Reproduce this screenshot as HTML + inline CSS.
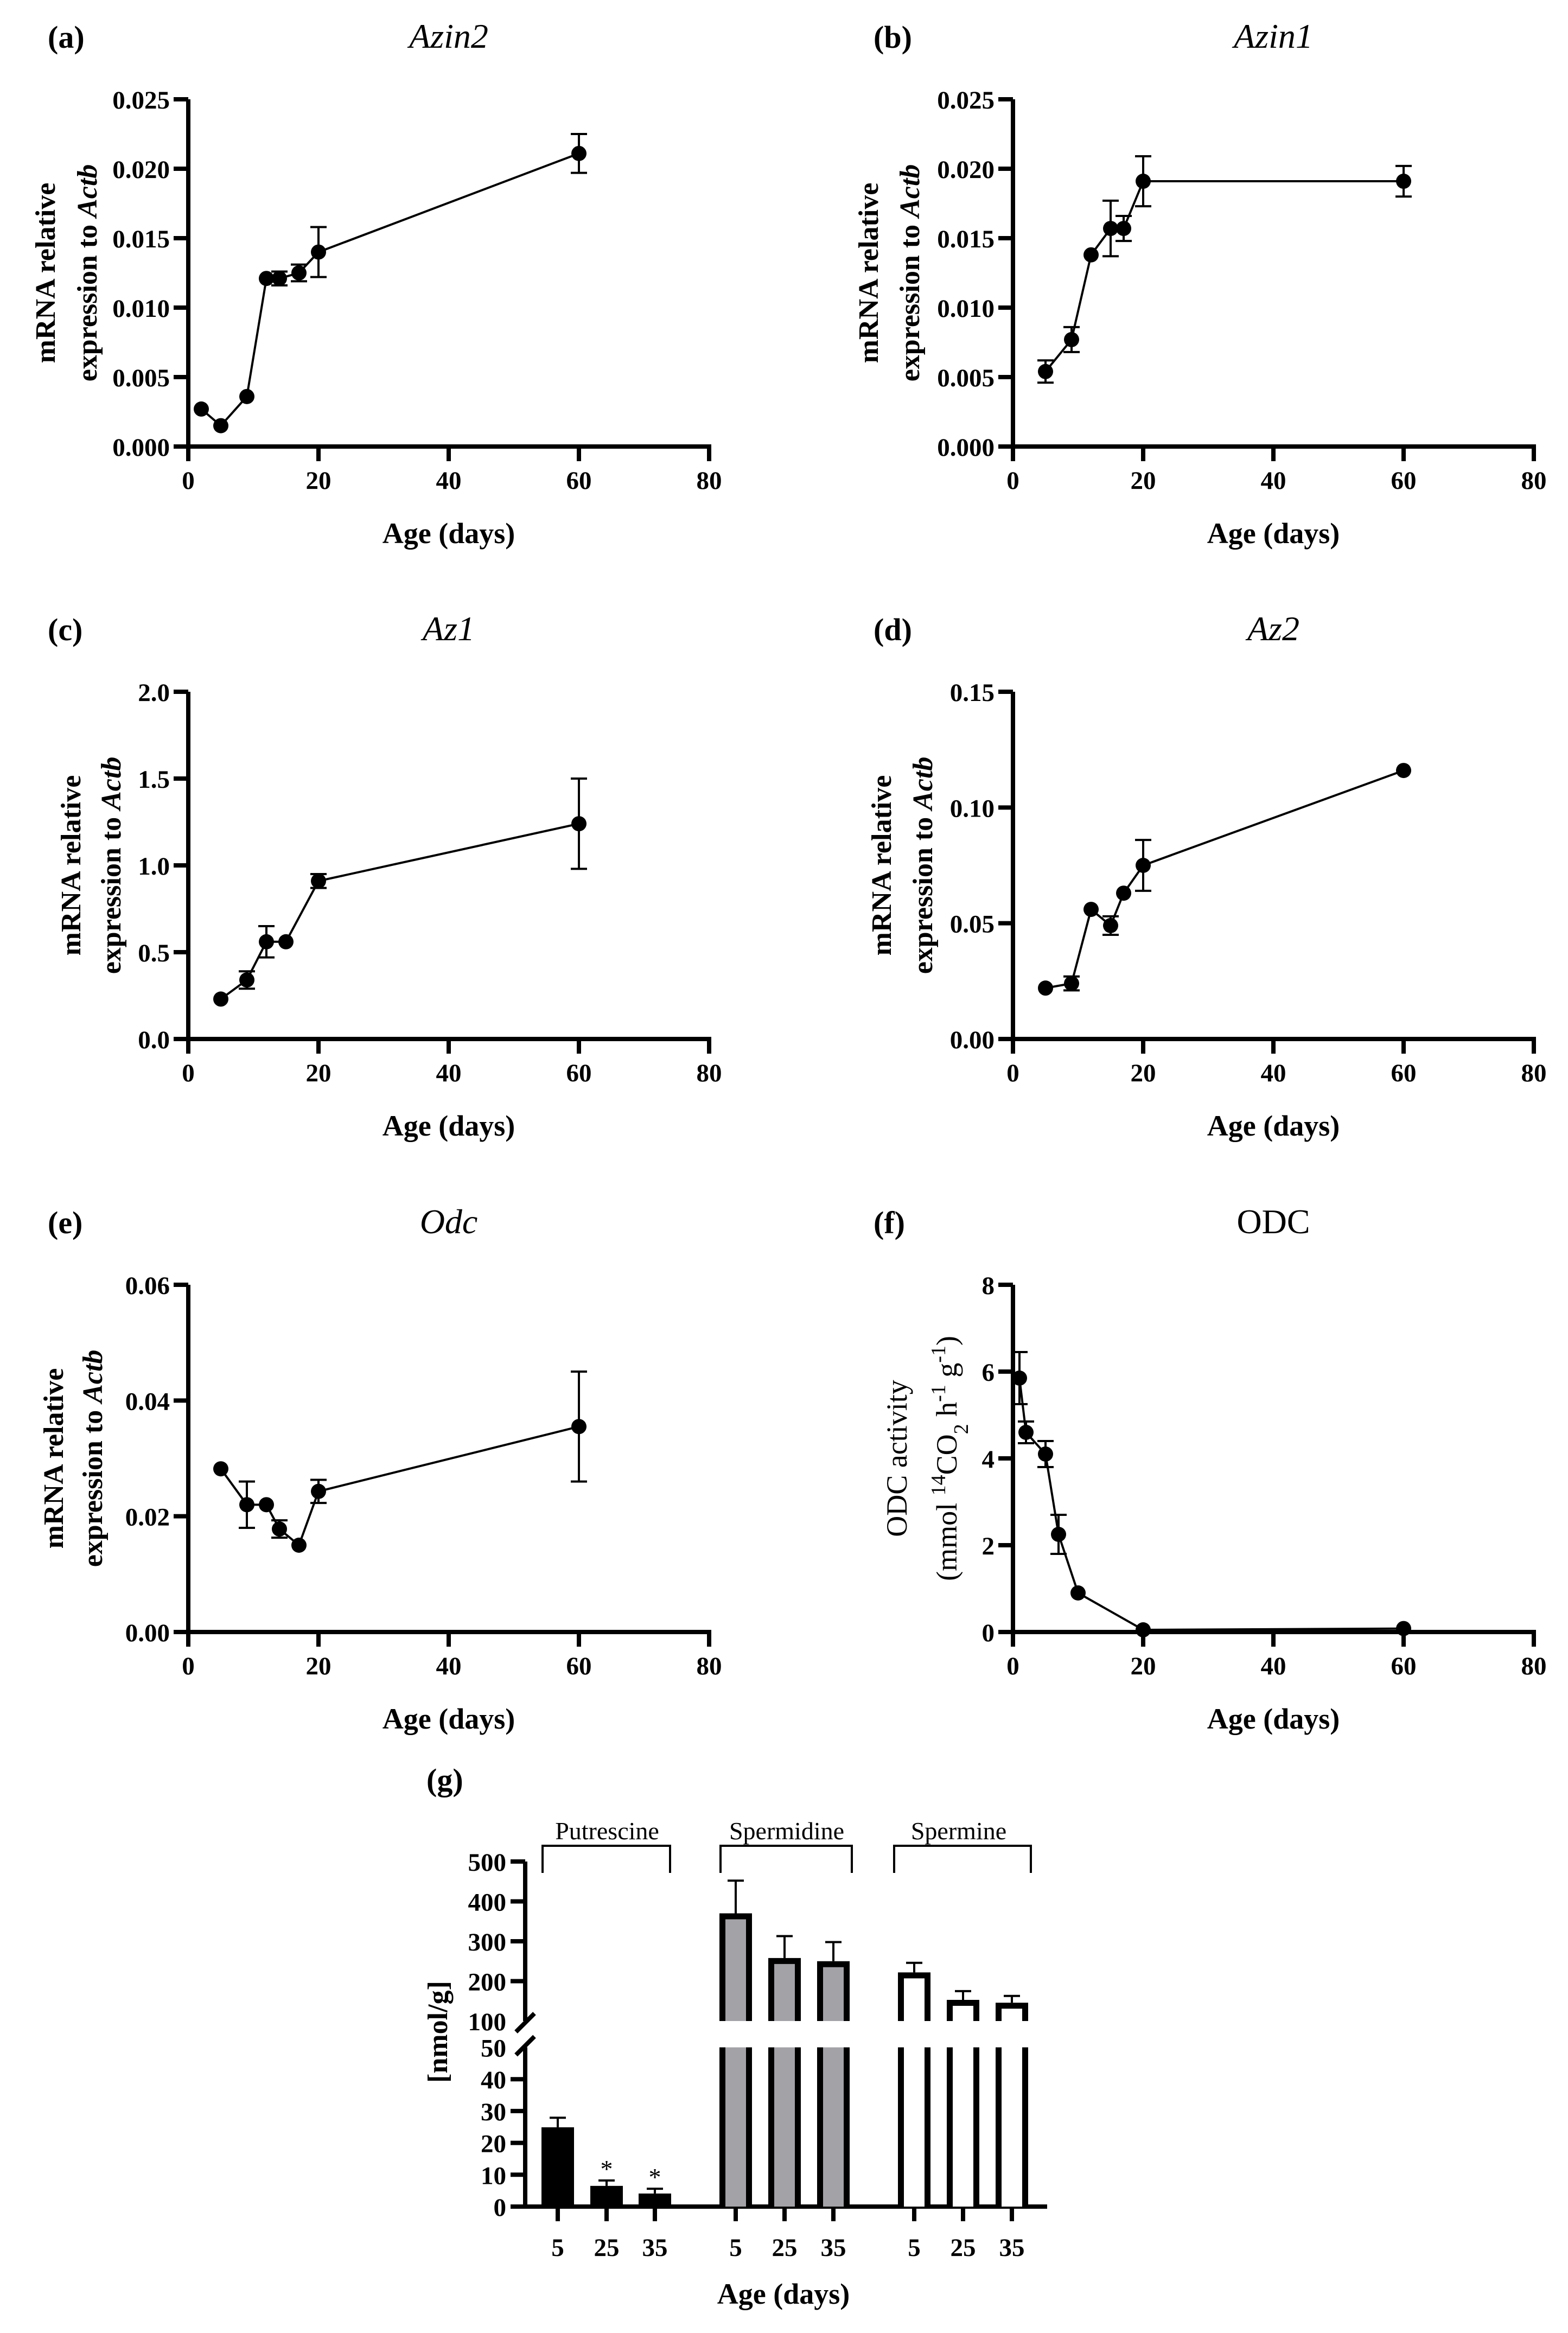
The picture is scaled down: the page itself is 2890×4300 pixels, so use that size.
<!DOCTYPE html>
<html><head><meta charset="utf-8"><title>Polyamine enzymes expression</title>
<style>
html,body{margin:0;padding:0;background:#fff;}
svg{display:block;font-family:"Liberation Serif",serif;}
.tick{font-weight:bold;font-size:47px;}
.axt{font-weight:bold;font-size:54px;}
.ytl{font-weight:bold;font-size:52px;}
.ttl{font-size:64px;}
.lab{font-weight:bold;font-size:58px;}
</style></head>
<body>
<svg id="fig" xmlns="http://www.w3.org/2000/svg" width="2890" height="4300" viewBox="0 0 2890 4300"></svg>
<script>
// ---------- panel data (line charts) ----------
const xAzin2 = [2, 5, 9, 12, 14, 17, 20, 60];
const yAzin2 = [0.0027, 0.0015, 0.0036, 0.0121, 0.0121, 0.0125, 0.0140, 0.0211];
const eAzin2 = [0, 0, 0, 0, 0.0005, 0.0006, 0.0018, 0.0014];
const tAzin2 = ["0.000", "0.005", "0.010", "0.015", "0.020", "0.025"];

const xAzin1 = [5, 9, 12, 15, 17, 20, 60];
const yAzin1 = [0.0054, 0.0077, 0.0138, 0.0157, 0.0157, 0.0191, 0.0191];
const eAzin1 = [0.0008, 0.0009, 0, 0.0020, 0.0009, 0.0018, 0.0011];
const tAzin1 = ["0.000", "0.005", "0.010", "0.015", "0.020", "0.025"];

const xAz1 = [5, 9, 12, 15, 20, 60];
const yAz1 = [0.23, 0.34, 0.56, 0.56, 0.91, 1.24];
const eAz1 = [0, 0.05, 0.09, 0, 0.04, 0.26];
const tAz1 = ["0.0", "0.5", "1.0", "1.5", "2.0"];

const xAz2 = [5, 9, 12, 15, 17, 20, 60];
const yAz2 = [0.022, 0.024, 0.056, 0.049, 0.063, 0.075, 0.116];
const eAz2 = [0, 0.003, 0, 0.004, 0, 0.011, 0];
const tAz2 = ["0.00", "0.05", "0.10", "0.15"];

const xOdc = [5, 9, 12, 14, 17, 20, 60];
const yOdc = [0.0282, 0.0220, 0.0220, 0.0178, 0.0150, 0.0243, 0.0355];
const eOdc = [0, 0.0040, 0, 0.0015, 0, 0.0020, 0.0095];
const tOdc = ["0.00", "0.02", "0.04", "0.06"];

const xODC = [1, 2, 5, 7, 10, 20, 60];
const yODC = [5.85, 4.6, 4.1, 2.25, 0.9, 0.05, 0.08];
const eODC = [0.6, 0.25, 0.3, 0.45, 0, 0, 0];
const tODC = ["0", "2", "4", "6", "8"];

const xTicks = ["0", "20", "40", "60", "80"];

// ---------- panel g data (bars) ----------
const groups = ["Putrescine", "Spermidine", "Spermine"];
const ages = ["5", "25", "35"];
const putVals = [24.9, 6.5, 4.1];
const putErr = [3.0, 1.7, 1.5];
const spdVals = [370, 258, 250];
const spdErr = [82, 55, 48];
const spmVals = [222, 153, 146];
const spmErr = [24, 22, 17];
const lowTicks = ["0", "10", "20", "30", "40", "50"];
const highTicks = ["100", "200", "300", "400", "500"];

const NS = "http://www.w3.org/2000/svg";
const svg = document.getElementById("fig");
function mk(tag, attrs, parent) {
  const e = document.createElementNS(NS, tag);
  for (const k in attrs) e.setAttribute(k, attrs[k]);
  (parent || svg).appendChild(e);
  return e;
}
function txt(str, attrs, parent) { const t = mk("text", attrs, parent); t.textContent = str; return t; }

function linePanel(o) {
  const g = mk("g", {});
  
  
  const x0 = o.x0, y0 = o.y0, W = 960, H = 640;
  const ymax = parseFloat(o.ticks[o.ticks.length - 1]);
  const sx = v => x0 + v / 80 * W;
  const sy = v => y0 - v / ymax * H;
  const lb = txt(o.label, {x: o.labX, y: o.y0 - 735, class: "lab"}, g);
  
  
  const tt = txt(o.title, {x: x0 + 480, y: o.y0 - 735, class: "ttl", "text-anchor": "middle", style: o.italic ? "font-style:italic" : "font-style:normal"}, g);
  
  
  const ax = mk("path", {d: `M${x0},${y0 - H} V${y0 + 27} M${x0 - 27},${y0} H${sx(80) + 4}`, stroke: "#000", "stroke-width": 8, fill: "none"}, g);
  
  
  o.ticks.forEach((t, i) => {
    const v = parseFloat(t), y = sy(v);
    mk("line", {x1: x0 - 27, x2: x0, y1: y, y2: y, stroke: "#000", "stroke-width": 8}, g);
    const tl = txt(t, {x: x0 - 34, y: y + 17, class: "tick", "text-anchor": "end"}, g);
    
    
  });
  xTicks.forEach(t => {
    const x = sx(parseFloat(t));
    mk("line", {x1: x, x2: x, y1: y0, y2: y0 + 27, stroke: "#000", "stroke-width": 8}, g);
    const tl = txt(t, {x: x, y: y0 + 78, class: "tick", "text-anchor": "middle"}, g);
    
    
  });
  const xt = txt("Age (days)", {x: x0 + 480, y: y0 + 178, class: "axt", "text-anchor": "middle"}, g);
  
  
  const cy = y0 - 320;
  const yt = mk("g", {}, g);
  
  
  if (o.odc) {
    txt("ODC activity", {transform: `translate(${o.ty1 + 18},${cy}) rotate(-90)`, "text-anchor": "middle", "font-size": 54}, yt);
    const t2 = mk("text", {transform: `translate(${o.ty2 + 18},${cy}) rotate(-90)`, "text-anchor": "middle", "font-size": 54}, yt);
    const parts = [["(mmol ", 0], ["14", 1], ["CO", 0], ["2", -1], [" h", 0], ["-1", 1], [" g", 0], ["-1", 1], [")", 0]];
    parts.forEach(p => {
      const ts = mk("tspan", p[1] ? {"font-size": 38, "baseline-shift": p[1] > 0 ? "super" : "sub"} : {}, t2);
      ts.textContent = p[0];
    });
  } else {
    txt("mRNA relative", {transform: `translate(${o.ty1 + 18},${cy}) rotate(-90)`, "text-anchor": "middle", class: "ytl"}, yt);
    const t2 = mk("text", {transform: `translate(${o.ty2 + 18},${cy}) rotate(-90)`, "text-anchor": "middle", class: "ytl"}, yt);
    const a = mk("tspan", {}, t2); a.textContent = "expression to ";
    const b = mk("tspan", {"font-style": "italic"}, t2); b.textContent = "Actb";
  }
  const pts = o.xs.map((x, i) => `${sx(x)},${sy(o.ys[i])}`).join(" ");
  const pl = mk("polyline", {points: pts, fill: "none", stroke: "#000", "stroke-width": 4}, g);
  
  
  o.xs.forEach((x, i) => {
    const e = o.es[i];
    if (e > 0) {
      const eb = mk("path", {d: `M${sx(x)},${sy(o.ys[i] - e)} V${sy(o.ys[i] + e)} M${sx(x) - 15},${sy(o.ys[i] - e)} h30 M${sx(x) - 15},${sy(o.ys[i] + e)} h30`, stroke: "#000", "stroke-width": 4, fill: "none"}, g);
      
      
    }
    const c = mk("circle", {cx: sx(x), cy: sy(o.ys[i]), r: 14, fill: "#000"}, g);
    
    
  });
}

linePanel({name: "azin2", label: "(a)", labX: 88, title: "Azin2", italic: true, x0: 347, y0: 823, ticks: tAzin2, xs: xAzin2, ys: yAzin2, es: eAzin2, ty1: 83, ty2: 160});
linePanel({name: "azin1", label: "(b)", labX: 1610, title: "Azin1", italic: true, x0: 1867, y0: 823, ticks: tAzin1, xs: xAzin1, ys: yAzin1, es: eAzin1, ty1: 1600, ty2: 1676});
linePanel({name: "az1", label: "(c)", labX: 88, title: "Az1", italic: true, x0: 347, y0: 1915, ticks: tAz1, xs: xAz1, ys: yAz1, es: eAz1, ty1: 130, ty2: 204});
linePanel({name: "az2", label: "(d)", labX: 1610, title: "Az2", italic: true, x0: 1867, y0: 1915, ticks: tAz2, xs: xAz2, ys: yAz2, es: eAz2, ty1: 1624, ty2: 1700});
linePanel({name: "odc-mrna", label: "(e)", labX: 88, title: "Odc", italic: true, x0: 347, y0: 3008, ticks: tOdc, xs: xOdc, ys: yOdc, es: eOdc, ty1: 98, ty2: 170});
linePanel({name: "odc-activity", label: "(f)", labX: 1610, title: "ODC", italic: false, x0: 1867, y0: 3008, ticks: tODC, xs: xODC, ys: yODC, es: eODC, ty1: 1653, ty2: 1745, odc: true});

// ---------- panel g ----------
(function () {
  const g = mk("g", {});
  
  
  const AX = 968, Y0 = 4067, LOWS = 5.87, UP100 = 3725, UPS = 0.735, XEND = 1930;
  const yLow = v => Y0 - v * LOWS;
  const yUp = v => UP100 - (v - 100) * UPS;
  const yv = v => v <= 50 ? yLow(v) : yUp(v);
  const centers = [1028, 1118, 1207, 1356, 1446, 1536, 1685, 1775, 1865];
  const gl = txt("(g)", {x: 786, y: 3300, class: "lab"}, g);
  
  
  const ax = mk("path", {d: `M${AX},${yUp(500)} V${UP100} M${AX},${yLow(50)} V${Y0} M${AX - 27},${Y0} H${XEND}`, stroke: "#000", "stroke-width": 8, fill: "none"}, g);
  
  
  mk("path", {d: `M${AX - 17},${UP100 + 20} L${AX + 17},${UP100 - 14} M${AX - 17},${yLow(50) + 14} L${AX + 17},${yLow(50) - 20}`, stroke: "#000", "stroke-width": 8}, g);
  lowTicks.forEach(t => {
    const v = parseFloat(t), y = yLow(v);
    if (v < 50) mk("line", {x1: AX - 27, x2: AX, y1: y, y2: y, stroke: "#000", "stroke-width": 8}, g);
    const tl = txt(t, {x: 933, y: y + 17, class: "tick", "text-anchor": "end"}, g);
    
    
  });
  highTicks.forEach(t => {
    const v = parseFloat(t), y = yUp(v);
    if (v > 100) mk("line", {x1: AX - 27, x2: AX, y1: y, y2: y, stroke: "#000", "stroke-width": 8}, g);
    const tl = txt(t, {x: 933, y: y + 17, class: "tick", "text-anchor": "end"}, g);
    
    
  });
  const yt = txt("[nmol/g]", {transform: "translate(824,3745) rotate(-90)", "text-anchor": "middle", class: "ytl"}, g);
  
  
  const xt = txt("Age (days)", {x: 1444, y: 4246, class: "axt", "text-anchor": "middle"}, g);
  
  
  const vals = [putVals, spdVals, spmVals];
  const errs = [putErr, spdErr, spmErr];
  const fills = ["#000", "#a3a2a7", "#fff"];
  const brk = [[1000, 1235, 1119], [1328, 1570, 1450], [1648, 1900, 1767]];
  groups.forEach((name, gi) => {
    const br = mk("path", {d: `M${brk[gi][0]},3452 V3402 H${brk[gi][1]} V3452`, stroke: "#000", "stroke-width": 4, fill: "none"}, g);
    
    
    const gt = txt(name, {x: brk[gi][2], y: 3390, "font-size": 46, "text-anchor": "middle"}, g);
    
    
    ages.forEach((a, i) => {
      const c = centers[gi * 3 + i], v = vals[gi][i], e = errs[gi][i];
      const L = c - 30, R = c + 30, top = yv(v);
      const bar = mk("g", {}, g);
      
      
      mk("path", {d: `M${c},${top} V${yv(v + e)} M${c - 15},${yv(v + e)} h30`, stroke: "#000", "stroke-width": 4, fill: "none"}, bar);
      if (v <= 50) {
        mk("rect", {x: L, y: top, width: 60, height: Y0 - top, fill: "#000"}, bar);
      } else {
        mk("rect", {x: L + 5.5, y: top + 5.5, width: 49, height: UP100 - top - 5.5, fill: fills[gi]}, bar);
        mk("rect", {x: L + 5.5, y: yLow(50), width: 49, height: Y0 - yLow(50), fill: fills[gi]}, bar);
        mk("path", {d: `M${L + 5.5},${UP100} V${top + 5.5} H${R - 5.5} V${UP100} M${L + 5.5},${yLow(50)} V${Y0} M${R - 5.5},${yLow(50)} V${Y0}`, stroke: "#000", "stroke-width": 11, fill: "none"}, bar);
      }
      mk("line", {x1: c, x2: c, y1: Y0, y2: Y0 + 27, stroke: "#000", "stroke-width": 8}, g);
      const tl = txt(a, {x: c, y: 4158, class: "tick", "text-anchor": "middle"}, g);
      
      
      if (gi === 0 && i > 0) {
        const st = txt("*", {x: c, y: yv(v + e) - 6, "font-size": 46, "text-anchor": "middle"}, g);
        
        
      }
    });
  });
})();
</script>
</body></html>
